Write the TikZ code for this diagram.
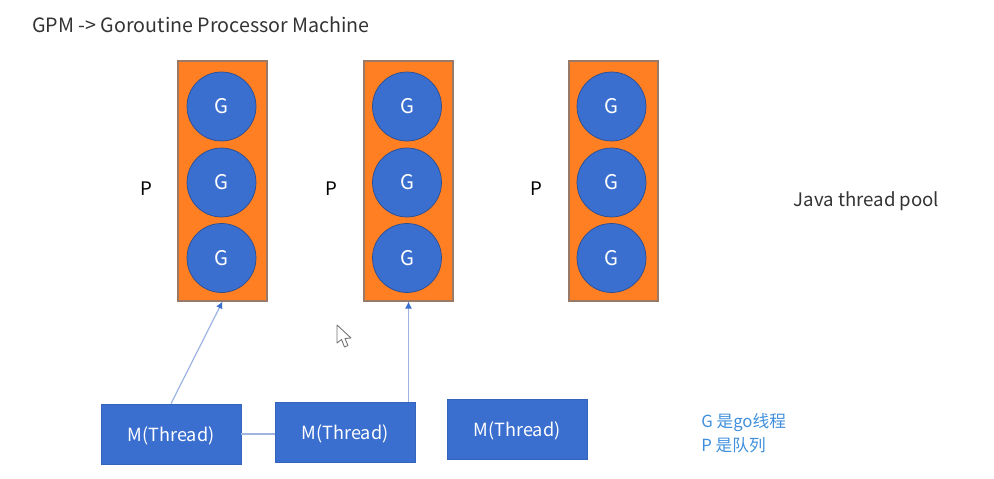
\documentclass[tikz,border=0pt]{standalone}
\usepackage{fontspec}
\setmainfont{Noto Sans CJK SC}
\usetikzlibrary{arrows.meta}
\definecolor{porange}{HTML}{FF7F22}
\definecolor{gblue}{HTML}{3A6FD0}
\definecolor{linkblue}{HTML}{9DB5E0}
\definecolor{notecolor}{HTML}{3F8FDD}
\definecolor{boxedge}{HTML}{9A7A66}
\tikzset{
  procbox/.style={draw=boxedge, fill=porange, line width=0.6pt, minimum width=1.78cm, minimum height=4.8cm, inner sep=0pt},
  gor/.style={circle, draw=gblue!70!black, fill=gblue, line width=0.4pt, minimum size=1.38cm, inner sep=0pt, text=white, font=\fontsize{11.5}{13}\selectfont},
  thr/.style={draw=gblue!90!black, fill=gblue, line width=0.4pt, minimum width=2.8cm, minimum height=1.2cm, inner sep=0pt, text=white, text depth=0pt, font=\fontsize{10.3}{12}\selectfont},
  lbl/.style={font=\fontsize{10.6}{12}\selectfont, text=black!80, inner sep=0pt},
  note/.style={font=\fontsize{9.5}{11}\selectfont, text=notecolor, anchor=west, inner sep=0pt},
  link/.style={draw=linkblue, line width=0.7pt},
  linkarr/.style={link, -{Latex[length=4pt,width=4pt,color=gblue]}}
}

\begin{document}
\begin{tikzpicture}[x=0.02cm, y=-0.02cm]
  \useasboundingbox (0,0) rectangle (994,479);
  \node[lbl, anchor=west, font=\fontsize{11.2}{13}\selectfont] (title) at (32,25) {GPM -> Goroutine Processor Machine};

  % three processors, each with its queue of goroutines
  \foreach \n/\bx/\cx/\lx in {1/222.5/221.5/146, 2/408.5/407/331, 3/613.5/611.5/536} {
    \node[procbox] (p\n) at (\bx,181) {};
    \node[gor] (g\n a) at (\cx,106.5) {G};
    \node[gor] (g\n b) at (\cx,182.5) {G};
    \node[gor] (g\n c) at (\cx,258) {G};
    \node[lbl, text=black] (plabel\n) at (\lx,189) {P};
  }

  \node[lbl] (pool) at (866.5,201) {Java thread pool};

  % machine threads
  \node[thr] (m1) at (171,434) {M(Thread)};
  \node[thr] (m2) at (345,432) {M(Thread)};
  \node[thr] (m3) at (517,429) {M(Thread)};

  \draw[link] (m1.east) -- (m1.east -| m2.west);
  \draw[linkarr] (m1.north) -- (p1.south);
  \draw[linkarr] (m2.north -| p2.south) -- (p2.south);

  % mouse pointer
  \draw[draw=black!55, fill=white, line width=0.5pt, line join=round]
    (337,325) -- (337,343) -- (341.5,339.5) -- (344.5,347) -- (348,345.5) -- (345,338.5) -- (351,338) -- cycle;

  \node[note] (noteg) at (701,423) {G 是go线程};
  \node[note] (notep) at (701,445) {P 是队列};
\end{tikzpicture}
\end{document}
